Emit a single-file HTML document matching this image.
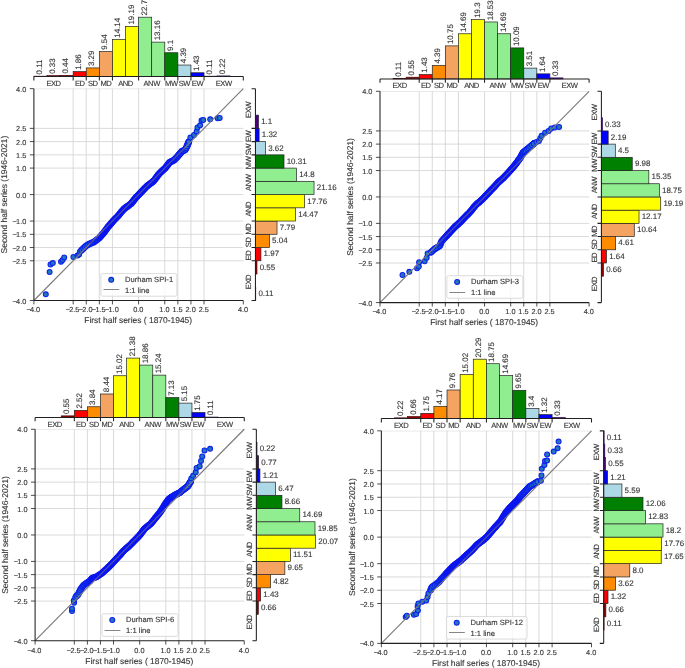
<!DOCTYPE html>
<html><head><meta charset="utf-8"><title>QQ plots</title>
<style>
html,body{margin:0;padding:0;background:#fff;}
body{width:685px;height:668px;overflow:hidden;font-family:"Liberation Sans",sans-serif;}
svg{display:block;will-change:transform;}
text{font-family:"Liberation Sans",sans-serif;fill:#383838;text-rendering:geometricPrecision;stroke:#383838;stroke-width:0.13px;}
.t{font-size:7.35px;}
.a{font-size:8.45px;}
.l{font-size:7.6px;}
.v{font-size:7.95px;}
.c{font-size:7.6px;letter-spacing:-0.45px;}
</style></head><body>
<svg width="685" height="668" viewBox="0 0 685 668">
<rect width="685" height="668" fill="#fff"/>
<path d="M33.9 88.85H243.3" stroke="#d3d3d3" stroke-width="0.5" fill="none"/>
<path d="M73.16 88.65V300.5M33.9 260.78H243.3M86.25 88.65V300.5M33.9 247.54H243.3M99.34 88.65V300.5M33.9 234.3H243.3M112.43 88.65V300.5M33.9 221.06H243.3M138.6 88.65V300.5M33.9 194.57H243.3M164.78 88.65V300.5M33.9 168.09H243.3M177.86 88.65V300.5M33.9 154.85H243.3M190.95 88.65V300.5M33.9 141.61H243.3M204.04 88.65V300.5M33.9 128.37H243.3" stroke="#d3d3d3" stroke-width="0.85" fill="none"/>
<path d="M81.5 250.2L86 245.9L89.6 243.8L94 242L99.2 238L103.6 233L108 227L113 221.2L115.14 218.98L117.28 216.75L119.33 214.43L121.25 212L123.29 209.67L125.65 207.66L128.24 205.87L130.68 203.93L132.76 201.65L134.64 199.17L136.63 196.8L138.8 194.6L140.95 192.37L143.09 190.14L145.22 187.89L147.46 185.76L149.92 183.85L152.42 181.97L154.62 179.8L156.49 177.28L158.3 174.73L160.38 172.43L162.7 170.37L165 168.3L169.4 162.6L173.8 160.3L177.3 156.8L181.7 151.6L185.2 149.8L187 146.3L188.7 142" stroke="#0a14f0" stroke-width="6.8" stroke-linecap="round" stroke-linejoin="round" fill="none"/>
<g fill="#2277bb" stroke="#0d20ee" stroke-width="1.1"><circle cx="45.8" cy="294.3" r="2.45"/><circle cx="49.6" cy="272" r="2.45"/><circle cx="50.5" cy="264.5" r="2.45"/><circle cx="52.8" cy="263.1" r="2.45"/><circle cx="61" cy="261.7" r="2.45"/><circle cx="62.6" cy="259.9" r="2.45"/><circle cx="64.2" cy="257.5" r="2.45"/><circle cx="73.4" cy="256.9" r="2.45"/><circle cx="77.5" cy="255.6" r="2.45"/><circle cx="79.1" cy="254.4" r="2.45"/><circle cx="79.9" cy="251.7" r="2.45"/><circle cx="81.5" cy="250.2" r="2.45"/><circle cx="83.24" cy="248.54" r="2.45"/><circle cx="84.85" cy="247" r="2.45"/><circle cx="86.42" cy="245.66" r="2.45"/><circle cx="88.09" cy="244.68" r="2.45"/><circle cx="89.64" cy="243.78" r="2.45"/><circle cx="91.18" cy="243.15" r="2.45"/><circle cx="92.62" cy="242.56" r="2.45"/><circle cx="93.96" cy="242.02" r="2.45"/><circle cx="95.03" cy="241.21" r="2.45"/><circle cx="96.02" cy="240.45" r="2.45"/><circle cx="96.94" cy="239.74" r="2.45"/><circle cx="97.8" cy="239.08" r="2.45"/><circle cx="98.59" cy="238.47" r="2.45"/><circle cx="99.31" cy="237.88" r="2.45"/><circle cx="99.88" cy="237.22" r="2.45"/></g>
<path d="M100.42 236.62L103.6 233L108 227L113 221.2L115.14 218.98L117.28 216.75L119.33 214.43L121.25 212L123.29 209.67L125.65 207.66L128.24 205.87L130.68 203.93L132.76 201.65L134.64 199.17L136.63 196.8L138.8 194.6L140.95 192.37L143.09 190.14L145.22 187.89L147.46 185.76L149.92 183.85L152.42 181.97L154.62 179.8L156.49 177.28L158.3 174.73L160.38 172.43L162.7 170.37L165 168.3L169.4 162.6L173.8 160.3L177.3 156.8L181.7 151.6L185.2 149.8L187 146.3L188.7 142" stroke="#0a14f0" stroke-width="6.8" stroke-linecap="round" stroke-linejoin="round" fill="none"/>
<g fill="#2277bb" stroke="#0d20ee" stroke-width="1.1"><circle cx="174.87" cy="159.23" r="2.45"/><circle cx="175.49" cy="158.61" r="2.45"/><circle cx="176.15" cy="157.95" r="2.45"/><circle cx="176.86" cy="157.24" r="2.45"/><circle cx="177.59" cy="156.45" r="2.45"/><circle cx="178.34" cy="155.57" r="2.45"/><circle cx="179.15" cy="154.61" r="2.45"/><circle cx="180.02" cy="153.59" r="2.45"/><circle cx="180.95" cy="152.49" r="2.45"/><circle cx="182.05" cy="151.42" r="2.45"/><circle cx="183.53" cy="150.66" r="2.45"/><circle cx="185.13" cy="149.84" r="2.45"/><circle cx="186.05" cy="148.15" r="2.45"/><circle cx="187" cy="146.31" r="2.45"/><circle cx="187.82" cy="144.23" r="2.45"/><circle cx="188.7" cy="142" r="2.45"/><circle cx="190.4" cy="137.6" r="2.45"/><circle cx="194" cy="135" r="2.45"/><circle cx="196.6" cy="131.4" r="2.45"/><circle cx="197.5" cy="127.6" r="2.45"/><circle cx="200.1" cy="125.3" r="2.45"/><circle cx="201.5" cy="120.6" r="2.45"/><circle cx="203.2" cy="120" r="2.45"/><circle cx="210.2" cy="119.3" r="2.45"/><circle cx="217.6" cy="118.3" r="2.45"/><circle cx="219.7" cy="117.9" r="2.45"/></g>
<path d="M33.9 300.5L243.3 88.65" stroke="#7a7a7a" stroke-width="1.15" fill="none"/>
<path d="M89.6 243.8L94 242L99.2 238L103.6 233L108 227L113 221.2L115.14 218.98L117.28 216.75L119.33 214.43L121.25 212L123.29 209.67L125.65 207.66L128.24 205.87L130.68 203.93L132.76 201.65L134.64 199.17L136.63 196.8L138.8 194.6L140.95 192.37L143.09 190.14L145.22 187.89L147.46 185.76L149.92 183.85L152.42 181.97L154.62 179.8L156.49 177.28L158.3 174.73L160.38 172.43L162.7 170.37L165 168.3L169.4 162.6L173.8 160.3L177.3 156.8L181.7 151.6L185.2 149.8" stroke="#0a14f0" stroke-opacity="0.38" stroke-width="4" stroke-linecap="butt" stroke-linejoin="round" fill="none"/>
<path d="M33.9 300.5v3.9M33.9 300.5h-4.1M73.16 300.5v3.9M33.9 260.78h-4.1M86.25 300.5v3.9M33.9 247.54h-4.1M99.34 300.5v3.9M33.9 234.3h-4.1M112.43 300.5v3.9M33.9 221.06h-4.1M138.6 300.5v3.9M33.9 194.57h-4.1M164.78 300.5v3.9M33.9 168.09h-4.1M177.86 300.5v3.9M33.9 154.85h-4.1M190.95 300.5v3.9M33.9 141.61h-4.1M204.04 300.5v3.9M33.9 128.37h-4.1M243.3 300.5v3.9M33.9 88.65h-4.1" stroke="#202020" stroke-width="0.8" fill="none"/>
<path d="M33.9 88.65V300.5H243.3" stroke="#202020" stroke-width="1.05" fill="none"/>
<text x="33.3" y="312.35" text-anchor="middle" class="t"><tspan letter-spacing="-0.7">−</tspan>4.0</text>
<text x="26.3" y="303.5" text-anchor="end" class="t"><tspan letter-spacing="-0.7">−</tspan>4.0</text>
<text x="72.56" y="312.35" text-anchor="middle" class="t"><tspan letter-spacing="-0.7">−</tspan>2.5</text>
<text x="26.3" y="263.78" text-anchor="end" class="t"><tspan letter-spacing="-0.7">−</tspan>2.5</text>
<text x="85.65" y="312.35" text-anchor="middle" class="t"><tspan letter-spacing="-0.7">−</tspan>2.0</text>
<text x="26.3" y="250.54" text-anchor="end" class="t"><tspan letter-spacing="-0.7">−</tspan>2.0</text>
<text x="98.74" y="312.35" text-anchor="middle" class="t"><tspan letter-spacing="-0.7">−</tspan>1.5</text>
<text x="26.3" y="237.3" text-anchor="end" class="t"><tspan letter-spacing="-0.7">−</tspan>1.5</text>
<text x="111.83" y="312.35" text-anchor="middle" class="t"><tspan letter-spacing="-0.7">−</tspan>1.0</text>
<text x="26.3" y="224.06" text-anchor="end" class="t"><tspan letter-spacing="-0.7">−</tspan>1.0</text>
<text x="138.3" y="312.35" text-anchor="middle" class="t">0.0</text>
<text x="26.3" y="197.57" text-anchor="end" class="t">0.0</text>
<text x="164.47" y="312.35" text-anchor="middle" class="t">1.0</text>
<text x="26.3" y="171.09" text-anchor="end" class="t">1.0</text>
<text x="177.56" y="312.35" text-anchor="middle" class="t">1.5</text>
<text x="26.3" y="157.85" text-anchor="end" class="t">1.5</text>
<text x="190.65" y="312.35" text-anchor="middle" class="t">2.0</text>
<text x="26.3" y="144.61" text-anchor="end" class="t">2.0</text>
<text x="203.74" y="312.35" text-anchor="middle" class="t">2.5</text>
<text x="26.3" y="131.37" text-anchor="end" class="t">2.5</text>
<text x="243" y="312.35" text-anchor="middle" class="t">4.0</text>
<text x="26.3" y="91.65" text-anchor="end" class="t">4.0</text>
<text x="138.2" y="323.3" text-anchor="middle" class="a">First half series ( 1870-1945)</text>
<text transform="translate(7.2 194.57) rotate(-90)" text-anchor="middle" class="a">Second half series (1946-2021)</text>
<rect x="100.9" y="273.6" width="76" height="22.6" rx="1.8" fill="#fff" fill-opacity="0.8" stroke="#d2d2d2" stroke-width="0.8"/>
<circle cx="111.2" cy="279.8" r="2.45" fill="#2277bb" stroke="#0d20ee" stroke-width="1.1"/>
<text x="125" y="281.75" class="l">Durham SPI-1</text>
<path d="M103.5 289.5h15.8" stroke="#787878" stroke-width="0.9"/>
<text x="125" y="292.65" class="l">1:1 line</text>
<rect x="33.9" y="76.21" width="13.09" height="0.29" fill="#8b0000" stroke="#4a0808" stroke-width="0.7"/>
<text transform="translate(41.94 74.41) rotate(-90)" class="v">0.11</text>
<rect x="46.99" y="75.64" width="13.09" height="0.86" fill="#8b0000" stroke="#4a0808" stroke-width="0.7"/>
<text transform="translate(55.03 73.84) rotate(-90)" class="v">0.33</text>
<rect x="60.08" y="75.35" width="13.09" height="1.15" fill="#8b0000" stroke="#4a0808" stroke-width="0.7"/>
<text transform="translate(68.12 73.55) rotate(-90)" class="v">0.44</text>
<rect x="73.16" y="71.64" width="13.09" height="4.86" fill="#ff0000" stroke="#222" stroke-width="0.7"/>
<text transform="translate(81.21 69.84) rotate(-90)" class="v">1.86</text>
<rect x="86.25" y="67.91" width="13.09" height="8.59" fill="#ff8c00" stroke="#222" stroke-width="0.7"/>
<text transform="translate(94.29 66.11) rotate(-90)" class="v">3.29</text>
<rect x="99.34" y="51.58" width="13.09" height="24.92" fill="#f4a460" stroke="#222" stroke-width="0.7"/>
<text transform="translate(107.38 49.78) rotate(-90)" class="v">9.54</text>
<rect x="112.43" y="39.56" width="13.09" height="36.94" fill="#ffff00" stroke="#222" stroke-width="0.7"/>
<text transform="translate(120.47 37.76) rotate(-90)" class="v">14.14</text>
<rect x="125.51" y="26.37" width="13.09" height="50.13" fill="#ffff00" stroke="#222" stroke-width="0.7"/>
<text transform="translate(133.56 24.57) rotate(-90)" class="v">19.19</text>
<rect x="138.6" y="17.2" width="13.09" height="59.3" fill="#90ee90" stroke="#222" stroke-width="0.7"/>
<text transform="translate(146.64 15.4) rotate(-90)" class="v">22.7</text>
<rect x="151.69" y="42.12" width="13.09" height="34.38" fill="#90ee90" stroke="#222" stroke-width="0.7"/>
<text transform="translate(159.73 40.32) rotate(-90)" class="v">13.16</text>
<rect x="164.78" y="52.73" width="13.09" height="23.77" fill="#008000" stroke="#222" stroke-width="0.7"/>
<text transform="translate(172.82 50.93) rotate(-90)" class="v">9.1</text>
<rect x="177.86" y="65.03" width="13.09" height="11.47" fill="#add8e6" stroke="#222" stroke-width="0.7"/>
<text transform="translate(185.91 63.23) rotate(-90)" class="v">4.39</text>
<rect x="190.95" y="72.76" width="13.09" height="3.74" fill="#0000ff" stroke="#222" stroke-width="0.7"/>
<text transform="translate(198.99 70.96) rotate(-90)" class="v">1.43</text>
<rect x="204.04" y="76.21" width="13.09" height="0.29" fill="#4b0082" stroke="#300a58" stroke-width="0.7"/>
<text transform="translate(212.08 74.41) rotate(-90)" class="v">0.11</text>
<rect x="217.12" y="75.93" width="13.09" height="0.57" fill="#4b0082" stroke="#300a58" stroke-width="0.7"/>
<text transform="translate(225.17 74.13) rotate(-90)" class="v">0.22</text>
<path d="M33.9 76.5H243.3M33.9 76.5v3.9M73.16 76.5v3.9M86.25 76.5v3.9M99.34 76.5v3.9M112.43 76.5v3.9M138.6 76.5v3.9M164.78 76.5v3.9M177.86 76.5v3.9M190.95 76.5v3.9M204.04 76.5v3.9M243.3 76.5v3.9" stroke="#202020" stroke-width="1.05" fill="none"/>
<text x="53.53" y="85.9" text-anchor="middle" class="c">EXD</text>
<text x="79.71" y="85.9" text-anchor="middle" class="c">ED</text>
<text x="92.79" y="85.9" text-anchor="middle" class="c">SD</text>
<text x="105.88" y="85.9" text-anchor="middle" class="c">MD</text>
<text x="125.51" y="85.9" text-anchor="middle" class="c">AND</text>
<text x="151.69" y="85.9" text-anchor="middle" class="c">ANW</text>
<text x="171.32" y="85.9" text-anchor="middle" class="c">MW</text>
<text x="184.41" y="85.9" text-anchor="middle" class="c">SW</text>
<text x="197.49" y="85.9" text-anchor="middle" class="c">EW</text>
<text x="223.67" y="85.9" text-anchor="middle" class="c">EXW</text>
<rect x="255.45" y="287.26" width="0.3" height="13.24" fill="#8b0000" stroke="#4a0808" stroke-width="0.7"/>
<text x="258.45" y="296.18" class="v">0.11</text>
<rect x="255.45" y="260.78" width="1.52" height="13.24" fill="#8b0000" stroke="#4a0808" stroke-width="0.7"/>
<text x="259.67" y="269.7" class="v">0.55</text>
<rect x="255.45" y="247.54" width="5.46" height="13.24" fill="#ff0000" stroke="#222" stroke-width="0.7"/>
<text x="263.61" y="256.46" class="v">1.97</text>
<rect x="255.45" y="234.3" width="13.96" height="13.24" fill="#ff8c00" stroke="#222" stroke-width="0.7"/>
<text x="272.11" y="243.22" class="v">5.04</text>
<rect x="255.45" y="221.06" width="21.57" height="13.24" fill="#f4a460" stroke="#222" stroke-width="0.7"/>
<text x="279.72" y="229.98" class="v">7.79</text>
<rect x="255.45" y="207.82" width="40.07" height="13.24" fill="#ffff00" stroke="#222" stroke-width="0.7"/>
<text x="298.22" y="216.74" class="v">14.47</text>
<rect x="255.45" y="194.57" width="49.18" height="13.24" fill="#ffff00" stroke="#222" stroke-width="0.7"/>
<text x="307.33" y="203.5" class="v">17.76</text>
<rect x="255.45" y="181.33" width="58.6" height="13.24" fill="#90ee90" stroke="#222" stroke-width="0.7"/>
<text x="316.75" y="190.25" class="v">21.16</text>
<rect x="255.45" y="168.09" width="40.99" height="13.24" fill="#90ee90" stroke="#222" stroke-width="0.7"/>
<text x="299.14" y="177.01" class="v">14.8</text>
<rect x="255.45" y="154.85" width="28.55" height="13.24" fill="#008000" stroke="#222" stroke-width="0.7"/>
<text x="286.7" y="163.77" class="v">10.31</text>
<rect x="255.45" y="141.61" width="10.03" height="13.24" fill="#add8e6" stroke="#222" stroke-width="0.7"/>
<text x="268.18" y="150.53" class="v">3.62</text>
<rect x="255.45" y="128.37" width="3.66" height="13.24" fill="#0000ff" stroke="#222" stroke-width="0.7"/>
<text x="261.81" y="137.29" class="v">1.32</text>
<rect x="255.45" y="115.13" width="3.05" height="13.24" fill="#4b0082" stroke="#222" stroke-width="0.7"/>
<text x="261.2" y="124.05" class="v">1.1</text>
<path d="M255.45 88.65V300.5M255.45 300.5h-3.9M255.45 260.78h-3.9M255.45 247.54h-3.9M255.45 234.3h-3.9M255.45 221.06h-3.9M255.45 194.57h-3.9M255.45 168.09h-3.9M255.45 154.85h-3.9M255.45 141.61h-3.9M255.45 128.37h-3.9M255.45 88.65h-3.9" stroke="#202020" stroke-width="1.05" fill="none"/>
<text transform="translate(250.85 282.04) rotate(-90)" text-anchor="middle" class="c">EXD</text>
<text transform="translate(250.85 255.56) rotate(-90)" text-anchor="middle" class="c">ED</text>
<text transform="translate(250.85 242.32) rotate(-90)" text-anchor="middle" class="c">SD</text>
<text transform="translate(250.85 229.08) rotate(-90)" text-anchor="middle" class="c">MD</text>
<text transform="translate(250.85 209.22) rotate(-90)" text-anchor="middle" class="c">AND</text>
<text transform="translate(250.85 182.73) rotate(-90)" text-anchor="middle" class="c">ANW</text>
<text transform="translate(250.85 162.87) rotate(-90)" text-anchor="middle" class="c">MW</text>
<text transform="translate(250.85 149.63) rotate(-90)" text-anchor="middle" class="c">SW</text>
<text transform="translate(250.85 136.39) rotate(-90)" text-anchor="middle" class="c">EW</text>
<text transform="translate(250.85 109.91) rotate(-90)" text-anchor="middle" class="c">EXW</text>
<path d="M380 91.5H589.1" stroke="#d3d3d3" stroke-width="0.5" fill="none"/>
<path d="M419.21 91.3V302.6M380 262.98H589.1M432.27 91.3V302.6M380 249.78H589.1M445.34 91.3V302.6M380 236.57H589.1M458.41 91.3V302.6M380 223.36H589.1M484.55 91.3V302.6M380 196.95H589.1M510.69 91.3V302.6M380 170.54H589.1M523.76 91.3V302.6M380 157.33H589.1M536.83 91.3V302.6M380 144.12H589.1M549.89 91.3V302.6M380 130.92H589.1" stroke="#d3d3d3" stroke-width="0.85" fill="none"/>
<path d="M431 252.2L434.6 249L439.8 245.9L441.6 241.2L446 236.5L452 230L454.07 227.7L456.3 225.57L458.65 223.55L460.92 221.45L463.04 219.2L465.14 216.94L467.33 214.77L469.54 212.6L471.57 210.27L473.45 207.79L475.43 205.4L477.67 203.28L480.08 201.31L482.38 199.25L484.5 197L486.8 194.71L488.97 192.29L491.22 189.95L493.49 187.64L495.66 185.22L497.84 182.81L500.24 180.62L502.73 178.52L505 176.2L510 170.8L514 166.2L517 162.4L520.6 157.2L523.2 152.5L527.6 149L533.7 143.7" stroke="#0a14f0" stroke-width="6.8" stroke-linecap="round" stroke-linejoin="round" fill="none"/>
<g fill="#2277bb" stroke="#0d20ee" stroke-width="1.1"><circle cx="402.5" cy="275" r="2.45"/><circle cx="409.3" cy="271.8" r="2.45"/><circle cx="417" cy="268.3" r="2.45"/><circle cx="418.8" cy="266.6" r="2.45"/><circle cx="419.1" cy="262.2" r="2.45"/><circle cx="424.6" cy="261.3" r="2.45"/><circle cx="426.7" cy="257.8" r="2.45"/><circle cx="427.6" cy="253.4" r="2.45"/><circle cx="431" cy="252.2" r="2.45"/><circle cx="432.79" cy="250.61" r="2.45"/><circle cx="434.46" cy="249.12" r="2.45"/><circle cx="436.22" cy="248.03" r="2.45"/><circle cx="437.88" cy="247.04" r="2.45"/><circle cx="439.42" cy="246.12" r="2.45"/><circle cx="440.24" cy="244.75" r="2.45"/><circle cx="440.8" cy="243.3" r="2.45"/><circle cx="441.31" cy="241.95" r="2.45"/><circle cx="441.97" cy="240.81" r="2.45"/><circle cx="442.82" cy="239.89" r="2.45"/><circle cx="443.62" cy="239.05" r="2.45"/><circle cx="444.35" cy="238.26" r="2.45"/><circle cx="445.04" cy="237.52" r="2.45"/><circle cx="445.68" cy="236.84" r="2.45"/><circle cx="446.27" cy="236.21" r="2.45"/></g>
<path d="M446.82 235.61L452 230L454.07 227.7L456.3 225.57L458.65 223.55L460.92 221.45L463.04 219.2L465.14 216.94L467.33 214.77L469.54 212.6L471.57 210.27L473.45 207.79L475.43 205.4L477.67 203.28L480.08 201.31L482.38 199.25L484.5 197L486.8 194.71L488.97 192.29L491.22 189.95L493.49 187.64L495.66 185.22L497.84 182.81L500.24 180.62L502.73 178.52L505 176.2L510 170.8L514 166.2L517 162.4L520.6 157.2L523.2 152.5L527.6 149L533.7 143.7" stroke="#0a14f0" stroke-width="6.8" stroke-linecap="round" stroke-linejoin="round" fill="none"/>
<g fill="#2277bb" stroke="#0d20ee" stroke-width="1.1"><circle cx="518.51" cy="160.22" r="2.45"/><circle cx="519.01" cy="159.5" r="2.45"/><circle cx="519.54" cy="158.73" r="2.45"/><circle cx="520.11" cy="157.91" r="2.45"/><circle cx="520.71" cy="157.01" r="2.45"/><circle cx="521.27" cy="155.99" r="2.45"/><circle cx="521.87" cy="154.9" r="2.45"/><circle cx="522.52" cy="153.72" r="2.45"/><circle cx="523.24" cy="152.47" r="2.45"/><circle cx="524.45" cy="151.5" r="2.45"/><circle cx="525.76" cy="150.46" r="2.45"/><circle cx="527.16" cy="149.35" r="2.45"/><circle cx="528.64" cy="148.1" r="2.45"/><circle cx="530.2" cy="146.74" r="2.45"/><circle cx="531.89" cy="145.27" r="2.45"/><circle cx="533.7" cy="143.7" r="2.45"/><circle cx="536.5" cy="142" r="2.45"/><circle cx="538.9" cy="141" r="2.45"/><circle cx="540.3" cy="138.2" r="2.45"/><circle cx="541.6" cy="135.8" r="2.45"/><circle cx="545.1" cy="132.7" r="2.45"/><circle cx="548.6" cy="130.9" r="2.45"/><circle cx="551.2" cy="128.4" r="2.45"/><circle cx="554.7" cy="127.6" r="2.45"/><circle cx="559.1" cy="127" r="2.45"/></g>
<path d="M380 302.6L589.1 91.3" stroke="#7a7a7a" stroke-width="1.15" fill="none"/>
<path d="M439.8 245.9L441.6 241.2L446 236.5L452 230L454.07 227.7L456.3 225.57L458.65 223.55L460.92 221.45L463.04 219.2L465.14 216.94L467.33 214.77L469.54 212.6L471.57 210.27L473.45 207.79L475.43 205.4L477.67 203.28L480.08 201.31L482.38 199.25L484.5 197L486.8 194.71L488.97 192.29L491.22 189.95L493.49 187.64L495.66 185.22L497.84 182.81L500.24 180.62L502.73 178.52L505 176.2L510 170.8L514 166.2L517 162.4L520.6 157.2L523.2 152.5" stroke="#0a14f0" stroke-opacity="0.38" stroke-width="4" stroke-linecap="butt" stroke-linejoin="round" fill="none"/>
<path d="M380 302.6v3.9M380 302.6h-4.1M419.21 302.6v3.9M380 262.98h-4.1M432.27 302.6v3.9M380 249.78h-4.1M445.34 302.6v3.9M380 236.57h-4.1M458.41 302.6v3.9M380 223.36h-4.1M484.55 302.6v3.9M380 196.95h-4.1M510.69 302.6v3.9M380 170.54h-4.1M523.76 302.6v3.9M380 157.33h-4.1M536.83 302.6v3.9M380 144.12h-4.1M549.89 302.6v3.9M380 130.92h-4.1M589.1 302.6v3.9M380 91.3h-4.1" stroke="#202020" stroke-width="0.8" fill="none"/>
<path d="M380 91.3V302.6H589.1" stroke="#202020" stroke-width="1.05" fill="none"/>
<text x="379.4" y="314.45" text-anchor="middle" class="t"><tspan letter-spacing="-0.7">−</tspan>4.0</text>
<text x="372.4" y="305.6" text-anchor="end" class="t"><tspan letter-spacing="-0.7">−</tspan>4.0</text>
<text x="418.61" y="314.45" text-anchor="middle" class="t"><tspan letter-spacing="-0.7">−</tspan>2.5</text>
<text x="372.4" y="265.98" text-anchor="end" class="t"><tspan letter-spacing="-0.7">−</tspan>2.5</text>
<text x="431.67" y="314.45" text-anchor="middle" class="t"><tspan letter-spacing="-0.7">−</tspan>2.0</text>
<text x="372.4" y="252.78" text-anchor="end" class="t"><tspan letter-spacing="-0.7">−</tspan>2.0</text>
<text x="444.74" y="314.45" text-anchor="middle" class="t"><tspan letter-spacing="-0.7">−</tspan>1.5</text>
<text x="372.4" y="239.57" text-anchor="end" class="t"><tspan letter-spacing="-0.7">−</tspan>1.5</text>
<text x="457.81" y="314.45" text-anchor="middle" class="t"><tspan letter-spacing="-0.7">−</tspan>1.0</text>
<text x="372.4" y="226.36" text-anchor="end" class="t"><tspan letter-spacing="-0.7">−</tspan>1.0</text>
<text x="484.25" y="314.45" text-anchor="middle" class="t">0.0</text>
<text x="372.4" y="199.95" text-anchor="end" class="t">0.0</text>
<text x="510.39" y="314.45" text-anchor="middle" class="t">1.0</text>
<text x="372.4" y="173.54" text-anchor="end" class="t">1.0</text>
<text x="523.46" y="314.45" text-anchor="middle" class="t">1.5</text>
<text x="372.4" y="160.33" text-anchor="end" class="t">1.5</text>
<text x="536.53" y="314.45" text-anchor="middle" class="t">2.0</text>
<text x="372.4" y="147.12" text-anchor="end" class="t">2.0</text>
<text x="549.59" y="314.45" text-anchor="middle" class="t">2.5</text>
<text x="372.4" y="133.92" text-anchor="end" class="t">2.5</text>
<text x="588.8" y="314.45" text-anchor="middle" class="t">4.0</text>
<text x="372.4" y="94.3" text-anchor="end" class="t">4.0</text>
<text x="484.15" y="325.4" text-anchor="middle" class="a">First half series ( 1870-1945)</text>
<text transform="translate(353.3 196.95) rotate(-90)" text-anchor="middle" class="a">Second half series (1946-2021)</text>
<rect x="446.85" y="275.7" width="76" height="22.6" rx="1.8" fill="#fff" fill-opacity="0.8" stroke="#d2d2d2" stroke-width="0.8"/>
<circle cx="457.15" cy="281.9" r="2.45" fill="#2277bb" stroke="#0d20ee" stroke-width="1.1"/>
<text x="470.95" y="283.85" class="l">Durham SPI-3</text>
<path d="M449.45 292.5h15.8" stroke="#787878" stroke-width="0.9"/>
<text x="470.95" y="294.75" class="l">1:1 line</text>
<rect x="393.07" y="78.56" width="13.07" height="0.34" fill="#8b0000" stroke="#4a0808" stroke-width="0.7"/>
<text transform="translate(401.1 76.76) rotate(-90)" class="v">0.11</text>
<rect x="406.14" y="77.21" width="13.07" height="1.69" fill="#8b0000" stroke="#4a0808" stroke-width="0.7"/>
<text transform="translate(414.17 75.41) rotate(-90)" class="v">0.55</text>
<rect x="419.21" y="74.51" width="13.07" height="4.39" fill="#ff0000" stroke="#222" stroke-width="0.7"/>
<text transform="translate(427.24 72.71) rotate(-90)" class="v">1.43</text>
<rect x="432.27" y="65.41" width="13.07" height="13.49" fill="#ff8c00" stroke="#222" stroke-width="0.7"/>
<text transform="translate(440.31 63.61) rotate(-90)" class="v">4.39</text>
<rect x="445.34" y="45.87" width="13.07" height="33.03" fill="#f4a460" stroke="#222" stroke-width="0.7"/>
<text transform="translate(453.38 44.07) rotate(-90)" class="v">10.75</text>
<rect x="458.41" y="33.76" width="13.07" height="45.14" fill="#ffff00" stroke="#222" stroke-width="0.7"/>
<text transform="translate(466.45 31.96) rotate(-90)" class="v">14.69</text>
<rect x="471.48" y="19.6" width="13.07" height="59.3" fill="#ffff00" stroke="#222" stroke-width="0.7"/>
<text transform="translate(479.52 17.8) rotate(-90)" class="v">19.3</text>
<rect x="484.55" y="21.97" width="13.07" height="56.93" fill="#90ee90" stroke="#222" stroke-width="0.7"/>
<text transform="translate(492.58 20.17) rotate(-90)" class="v">18.53</text>
<rect x="497.62" y="33.76" width="13.07" height="45.14" fill="#90ee90" stroke="#222" stroke-width="0.7"/>
<text transform="translate(505.65 31.96) rotate(-90)" class="v">14.69</text>
<rect x="510.69" y="47.9" width="13.07" height="31" fill="#008000" stroke="#222" stroke-width="0.7"/>
<text transform="translate(518.72 46.1) rotate(-90)" class="v">10.09</text>
<rect x="523.76" y="68.12" width="13.07" height="10.78" fill="#add8e6" stroke="#222" stroke-width="0.7"/>
<text transform="translate(531.79 66.32) rotate(-90)" class="v">3.51</text>
<rect x="536.83" y="73.86" width="13.07" height="5.04" fill="#0000ff" stroke="#222" stroke-width="0.7"/>
<text transform="translate(544.86 72.06) rotate(-90)" class="v">1.64</text>
<rect x="549.89" y="77.89" width="13.07" height="1.01" fill="#4b0082" stroke="#300a58" stroke-width="0.7"/>
<text transform="translate(557.93 76.09) rotate(-90)" class="v">0.33</text>
<path d="M380 78.9H589.1M380 78.9v3.9M419.21 78.9v3.9M432.27 78.9v3.9M445.34 78.9v3.9M458.41 78.9v3.9M484.55 78.9v3.9M510.69 78.9v3.9M523.76 78.9v3.9M536.83 78.9v3.9M549.89 78.9v3.9M589.1 78.9v3.9" stroke="#202020" stroke-width="1.05" fill="none"/>
<text x="399.6" y="88.3" text-anchor="middle" class="c">EXD</text>
<text x="425.74" y="88.3" text-anchor="middle" class="c">ED</text>
<text x="438.81" y="88.3" text-anchor="middle" class="c">SD</text>
<text x="451.88" y="88.3" text-anchor="middle" class="c">MD</text>
<text x="471.48" y="88.3" text-anchor="middle" class="c">AND</text>
<text x="497.62" y="88.3" text-anchor="middle" class="c">ANW</text>
<text x="517.22" y="88.3" text-anchor="middle" class="c">MW</text>
<text x="530.29" y="88.3" text-anchor="middle" class="c">SW</text>
<text x="543.36" y="88.3" text-anchor="middle" class="c">EW</text>
<text x="569.5" y="88.3" text-anchor="middle" class="c">EXW</text>
<rect x="601.4" y="262.98" width="2.04" height="13.21" fill="#8b0000" stroke="#4a0808" stroke-width="0.7"/>
<text x="606.14" y="271.88" class="v">0.66</text>
<rect x="601.4" y="249.78" width="5.07" height="13.21" fill="#ff0000" stroke="#222" stroke-width="0.7"/>
<text x="609.17" y="258.68" class="v">1.64</text>
<rect x="601.4" y="236.57" width="14.25" height="13.21" fill="#ff8c00" stroke="#222" stroke-width="0.7"/>
<text x="618.35" y="245.47" class="v">4.61</text>
<rect x="601.4" y="223.36" width="32.88" height="13.21" fill="#f4a460" stroke="#222" stroke-width="0.7"/>
<text x="636.98" y="232.27" class="v">10.64</text>
<rect x="601.4" y="210.16" width="37.61" height="13.21" fill="#ffff00" stroke="#222" stroke-width="0.7"/>
<text x="641.71" y="219.06" class="v">12.17</text>
<rect x="601.4" y="196.95" width="59.3" height="13.21" fill="#ffff00" stroke="#222" stroke-width="0.7"/>
<text x="663.4" y="205.85" class="v">19.19</text>
<rect x="601.4" y="183.74" width="57.94" height="13.21" fill="#90ee90" stroke="#222" stroke-width="0.7"/>
<text x="662.04" y="192.65" class="v">18.75</text>
<rect x="601.4" y="170.54" width="47.43" height="13.21" fill="#90ee90" stroke="#222" stroke-width="0.7"/>
<text x="651.53" y="179.44" class="v">15.35</text>
<rect x="601.4" y="157.33" width="30.84" height="13.21" fill="#008000" stroke="#222" stroke-width="0.7"/>
<text x="634.94" y="166.23" class="v">9.98</text>
<rect x="601.4" y="144.12" width="13.91" height="13.21" fill="#add8e6" stroke="#222" stroke-width="0.7"/>
<text x="618.01" y="153.03" class="v">4.5</text>
<rect x="601.4" y="130.92" width="6.77" height="13.21" fill="#0000ff" stroke="#222" stroke-width="0.7"/>
<text x="610.87" y="139.82" class="v">2.19</text>
<rect x="601.4" y="117.71" width="1.02" height="13.21" fill="#4b0082" stroke="#300a58" stroke-width="0.7"/>
<text x="605.12" y="126.62" class="v">0.33</text>
<path d="M601.4 91.3V302.6M601.4 302.6h-3.9M601.4 262.98h-3.9M601.4 249.78h-3.9M601.4 236.57h-3.9M601.4 223.36h-3.9M601.4 196.95h-3.9M601.4 170.54h-3.9M601.4 157.33h-3.9M601.4 144.12h-3.9M601.4 130.92h-3.9M601.4 91.3h-3.9" stroke="#202020" stroke-width="1.05" fill="none"/>
<text transform="translate(596.8 284.19) rotate(-90)" text-anchor="middle" class="c">EXD</text>
<text transform="translate(596.8 257.78) rotate(-90)" text-anchor="middle" class="c">ED</text>
<text transform="translate(596.8 244.57) rotate(-90)" text-anchor="middle" class="c">SD</text>
<text transform="translate(596.8 231.37) rotate(-90)" text-anchor="middle" class="c">MD</text>
<text transform="translate(596.8 211.56) rotate(-90)" text-anchor="middle" class="c">AND</text>
<text transform="translate(596.8 185.14) rotate(-90)" text-anchor="middle" class="c">ANW</text>
<text transform="translate(596.8 165.33) rotate(-90)" text-anchor="middle" class="c">MW</text>
<text transform="translate(596.8 152.13) rotate(-90)" text-anchor="middle" class="c">SW</text>
<text transform="translate(596.8 138.92) rotate(-90)" text-anchor="middle" class="c">EW</text>
<text transform="translate(596.8 112.51) rotate(-90)" text-anchor="middle" class="c">EXW</text>
<path d="M35.1 429.45H244.25" stroke="#d3d3d3" stroke-width="0.5" fill="none"/>
<path d="M74.32 429.25V640.7M35.1 601.05H244.25M87.39 429.25V640.7M35.1 587.84H244.25M100.46 429.25V640.7M35.1 574.62H244.25M113.53 429.25V640.7M35.1 561.41H244.25M139.68 429.25V640.7M35.1 534.98H244.25M165.82 429.25V640.7M35.1 508.54H244.25M178.89 429.25V640.7M35.1 495.33H244.25M191.96 429.25V640.7M35.1 482.11H244.25M205.03 429.25V640.7M35.1 468.9H244.25" stroke="#d3d3d3" stroke-width="0.85" fill="none"/>
<path d="M76.5 596L78.2 594.3L80.8 589L83.4 585.5L86.1 583.4L89.6 581.2L92.2 578.2L96.6 576.8L101.8 573.3L107.1 568.5L112.3 563.3L120 555L122.03 552.56L124.16 550.23L126.57 548.17L129 546.14L131.26 543.93L133.44 541.63L135.68 539.41L137.89 537.16L140 534.8L141.94 532.29L143.79 529.68L146.02 527.44L148.62 525.53L151.03 523.45L153.05 521.01L155 518.5L159.8 512.6L163.3 507.3L165.9 503L168.5 499.5L172 496.8L175.5 494.7L179.9 492.4L184.3 488.9L187.8 486.3L190.4 481.9" stroke="#0a14f0" stroke-width="6.8" stroke-linecap="round" stroke-linejoin="round" fill="none"/>
<g fill="#2277bb" stroke="#0d20ee" stroke-width="1.1"><circle cx="72" cy="611" r="2.45"/><circle cx="72" cy="608.7" r="2.45"/><circle cx="74.1" cy="602.7" r="2.45"/><circle cx="73.8" cy="600.4" r="2.45"/><circle cx="75.2" cy="597.5" r="2.45"/><circle cx="76.5" cy="596" r="2.45"/><circle cx="78.2" cy="594.3" r="2.45"/><circle cx="79.18" cy="592.3" r="2.45"/><circle cx="80.1" cy="590.44" r="2.45"/><circle cx="81" cy="588.73" r="2.45"/><circle cx="82.07" cy="587.29" r="2.45"/><circle cx="83.06" cy="585.95" r="2.45"/><circle cx="84.18" cy="584.89" r="2.45"/><circle cx="85.32" cy="584.01" r="2.45"/><circle cx="86.4" cy="583.21" r="2.45"/><circle cx="87.46" cy="582.55" r="2.45"/><circle cx="88.44" cy="581.93" r="2.45"/><circle cx="89.36" cy="581.35" r="2.45"/><circle cx="90.07" cy="580.66" r="2.45"/><circle cx="90.68" cy="579.95" r="2.45"/><circle cx="91.25" cy="579.3" r="2.45"/></g>
<path d="M91.78 578.69L92.2 578.2L96.6 576.8L101.8 573.3L107.1 568.5L112.3 563.3L120 555L122.03 552.56L124.16 550.23L126.57 548.17L129 546.14L131.26 543.93L133.44 541.63L135.68 539.41L137.89 537.16L140 534.8L141.94 532.29L143.79 529.68L146.02 527.44L148.62 525.53L151.03 523.45L153.05 521.01L155 518.5L159.8 512.6L163.3 507.3L165.9 503L168.5 499.5L172 496.8L175.5 494.7L179.9 492.4L184.3 488.9L187.8 486.3L190.4 481.9" stroke="#0a14f0" stroke-width="6.8" stroke-linecap="round" stroke-linejoin="round" fill="none"/>
<g fill="#2277bb" stroke="#0d20ee" stroke-width="1.1"><circle cx="173.2" cy="496.08" r="2.45"/><circle cx="173.94" cy="495.63" r="2.45"/><circle cx="174.74" cy="495.15" r="2.45"/><circle cx="175.61" cy="494.64" r="2.45"/><circle cx="176.57" cy="494.14" r="2.45"/><circle cx="177.6" cy="493.6" r="2.45"/><circle cx="178.7" cy="493.03" r="2.45"/><circle cx="179.89" cy="492.4" r="2.45"/><circle cx="181.02" cy="491.51" r="2.45"/><circle cx="182.24" cy="490.54" r="2.45"/><circle cx="183.55" cy="489.5" r="2.45"/><circle cx="184.97" cy="488.4" r="2.45"/><circle cx="186.52" cy="487.25" r="2.45"/><circle cx="188.04" cy="485.89" r="2.45"/><circle cx="189.18" cy="483.97" r="2.45"/><circle cx="190.4" cy="481.9" r="2.45"/><circle cx="191.3" cy="478.4" r="2.45"/><circle cx="193.1" cy="475.8" r="2.45"/><circle cx="195.7" cy="472.3" r="2.45"/><circle cx="196.6" cy="467.9" r="2.45"/><circle cx="199.7" cy="466.2" r="2.45"/><circle cx="201" cy="460.9" r="2.45"/><circle cx="202.2" cy="456.5" r="2.45"/><circle cx="204.5" cy="450.4" r="2.45"/><circle cx="210.1" cy="448.8" r="2.45"/></g>
<path d="M35.1 640.7L244.25 429.25" stroke="#7a7a7a" stroke-width="1.15" fill="none"/>
<path d="M80.8 589L83.4 585.5L86.1 583.4L89.6 581.2L92.2 578.2L96.6 576.8L101.8 573.3L107.1 568.5L112.3 563.3L120 555L122.03 552.56L124.16 550.23L126.57 548.17L129 546.14L131.26 543.93L133.44 541.63L135.68 539.41L137.89 537.16L140 534.8L141.94 532.29L143.79 529.68L146.02 527.44L148.62 525.53L151.03 523.45L153.05 521.01L155 518.5L159.8 512.6L163.3 507.3L165.9 503L168.5 499.5L172 496.8L175.5 494.7L179.9 492.4L184.3 488.9" stroke="#0a14f0" stroke-opacity="0.38" stroke-width="4" stroke-linecap="butt" stroke-linejoin="round" fill="none"/>
<path d="M35.1 640.7v3.9M35.1 640.7h-4.1M74.32 640.7v3.9M35.1 601.05h-4.1M87.39 640.7v3.9M35.1 587.84h-4.1M100.46 640.7v3.9M35.1 574.62h-4.1M113.53 640.7v3.9M35.1 561.41h-4.1M139.68 640.7v3.9M35.1 534.98h-4.1M165.82 640.7v3.9M35.1 508.54h-4.1M178.89 640.7v3.9M35.1 495.33h-4.1M191.96 640.7v3.9M35.1 482.11h-4.1M205.03 640.7v3.9M35.1 468.9h-4.1M244.25 640.7v3.9M35.1 429.25h-4.1" stroke="#202020" stroke-width="0.8" fill="none"/>
<path d="M35.1 429.25V640.7H244.25" stroke="#202020" stroke-width="1.05" fill="none"/>
<text x="34.5" y="652.55" text-anchor="middle" class="t"><tspan letter-spacing="-0.7">−</tspan>4.0</text>
<text x="27.5" y="643.7" text-anchor="end" class="t"><tspan letter-spacing="-0.7">−</tspan>4.0</text>
<text x="73.72" y="652.55" text-anchor="middle" class="t"><tspan letter-spacing="-0.7">−</tspan>2.5</text>
<text x="27.5" y="604.05" text-anchor="end" class="t"><tspan letter-spacing="-0.7">−</tspan>2.5</text>
<text x="86.79" y="652.55" text-anchor="middle" class="t"><tspan letter-spacing="-0.7">−</tspan>2.0</text>
<text x="27.5" y="590.84" text-anchor="end" class="t"><tspan letter-spacing="-0.7">−</tspan>2.0</text>
<text x="99.86" y="652.55" text-anchor="middle" class="t"><tspan letter-spacing="-0.7">−</tspan>1.5</text>
<text x="27.5" y="577.62" text-anchor="end" class="t"><tspan letter-spacing="-0.7">−</tspan>1.5</text>
<text x="112.93" y="652.55" text-anchor="middle" class="t"><tspan letter-spacing="-0.7">−</tspan>1.0</text>
<text x="27.5" y="564.41" text-anchor="end" class="t"><tspan letter-spacing="-0.7">−</tspan>1.0</text>
<text x="139.38" y="652.55" text-anchor="middle" class="t">0.0</text>
<text x="27.5" y="537.98" text-anchor="end" class="t">0.0</text>
<text x="165.52" y="652.55" text-anchor="middle" class="t">1.0</text>
<text x="27.5" y="511.54" text-anchor="end" class="t">1.0</text>
<text x="178.59" y="652.55" text-anchor="middle" class="t">1.5</text>
<text x="27.5" y="498.33" text-anchor="end" class="t">1.5</text>
<text x="191.66" y="652.55" text-anchor="middle" class="t">2.0</text>
<text x="27.5" y="485.11" text-anchor="end" class="t">2.0</text>
<text x="204.73" y="652.55" text-anchor="middle" class="t">2.5</text>
<text x="27.5" y="471.9" text-anchor="end" class="t">2.5</text>
<text x="243.95" y="652.55" text-anchor="middle" class="t">4.0</text>
<text x="27.5" y="432.25" text-anchor="end" class="t">4.0</text>
<text x="139.28" y="663.5" text-anchor="middle" class="a">First half series ( 1870-1945)</text>
<text transform="translate(8.4 534.98) rotate(-90)" text-anchor="middle" class="a">Second half series (1946-2021)</text>
<rect x="101.98" y="613.8" width="76" height="22.6" rx="1.8" fill="#fff" fill-opacity="0.8" stroke="#d2d2d2" stroke-width="0.8"/>
<circle cx="112.28" cy="620" r="2.45" fill="#2277bb" stroke="#0d20ee" stroke-width="1.1"/>
<text x="126.08" y="621.95" class="l">Durham SPI-6</text>
<path d="M104.58 630.5h15.8" stroke="#787878" stroke-width="0.9"/>
<text x="126.08" y="632.85" class="l">1:1 line</text>
<rect x="61.24" y="415.87" width="13.07" height="1.53" fill="#8b0000" stroke="#4a0808" stroke-width="0.7"/>
<text transform="translate(69.28 414.07) rotate(-90)" class="v">0.55</text>
<rect x="74.32" y="410.41" width="13.07" height="6.99" fill="#ff0000" stroke="#222" stroke-width="0.7"/>
<text transform="translate(82.35 408.61) rotate(-90)" class="v">2.52</text>
<rect x="87.39" y="406.75" width="13.07" height="10.65" fill="#ff8c00" stroke="#222" stroke-width="0.7"/>
<text transform="translate(95.42 404.95) rotate(-90)" class="v">3.84</text>
<rect x="100.46" y="393.99" width="13.07" height="23.41" fill="#f4a460" stroke="#222" stroke-width="0.7"/>
<text transform="translate(108.5 392.19) rotate(-90)" class="v">8.44</text>
<rect x="113.53" y="375.74" width="13.07" height="41.66" fill="#ffff00" stroke="#222" stroke-width="0.7"/>
<text transform="translate(121.57 373.94) rotate(-90)" class="v">15.02</text>
<rect x="126.6" y="358.1" width="13.07" height="59.3" fill="#ffff00" stroke="#222" stroke-width="0.7"/>
<text transform="translate(134.64 356.3) rotate(-90)" class="v">21.38</text>
<rect x="139.68" y="365.09" width="13.07" height="52.31" fill="#90ee90" stroke="#222" stroke-width="0.7"/>
<text transform="translate(147.71 363.29) rotate(-90)" class="v">18.86</text>
<rect x="152.75" y="375.13" width="13.07" height="42.27" fill="#90ee90" stroke="#222" stroke-width="0.7"/>
<text transform="translate(160.78 373.33) rotate(-90)" class="v">15.24</text>
<rect x="165.82" y="397.62" width="13.07" height="19.78" fill="#008000" stroke="#222" stroke-width="0.7"/>
<text transform="translate(173.85 395.82) rotate(-90)" class="v">7.13</text>
<rect x="178.89" y="403.12" width="13.07" height="14.28" fill="#add8e6" stroke="#222" stroke-width="0.7"/>
<text transform="translate(186.93 401.32) rotate(-90)" class="v">5.15</text>
<rect x="191.96" y="412.55" width="13.07" height="4.85" fill="#0000ff" stroke="#222" stroke-width="0.7"/>
<text transform="translate(200 410.75) rotate(-90)" class="v">1.75</text>
<rect x="205.03" y="417.09" width="13.07" height="0.31" fill="#4b0082" stroke="#300a58" stroke-width="0.7"/>
<text transform="translate(213.07 415.29) rotate(-90)" class="v">0.11</text>
<path d="M35.1 417.4H244.25M35.1 417.4v3.9M74.32 417.4v3.9M87.39 417.4v3.9M100.46 417.4v3.9M113.53 417.4v3.9M139.68 417.4v3.9M165.82 417.4v3.9M178.89 417.4v3.9M191.96 417.4v3.9M205.03 417.4v3.9M244.25 417.4v3.9" stroke="#202020" stroke-width="1.05" fill="none"/>
<text x="54.71" y="426.8" text-anchor="middle" class="c">EXD</text>
<text x="80.85" y="426.8" text-anchor="middle" class="c">ED</text>
<text x="93.92" y="426.8" text-anchor="middle" class="c">SD</text>
<text x="107" y="426.8" text-anchor="middle" class="c">MD</text>
<text x="126.6" y="426.8" text-anchor="middle" class="c">AND</text>
<text x="152.75" y="426.8" text-anchor="middle" class="c">ANW</text>
<text x="172.35" y="426.8" text-anchor="middle" class="c">MW</text>
<text x="185.43" y="426.8" text-anchor="middle" class="c">SW</text>
<text x="198.5" y="426.8" text-anchor="middle" class="c">EW</text>
<text x="224.64" y="426.8" text-anchor="middle" class="c">EXW</text>
<rect x="256.35" y="601.05" width="1.95" height="13.22" fill="#8b0000" stroke="#4a0808" stroke-width="0.7"/>
<text x="261" y="609.96" class="v">0.66</text>
<rect x="256.35" y="587.84" width="4.23" height="13.22" fill="#ff0000" stroke="#222" stroke-width="0.7"/>
<text x="263.28" y="596.75" class="v">1.43</text>
<rect x="256.35" y="574.62" width="14.24" height="13.22" fill="#ff8c00" stroke="#222" stroke-width="0.7"/>
<text x="273.29" y="583.53" class="v">4.82</text>
<rect x="256.35" y="561.41" width="28.51" height="13.22" fill="#f4a460" stroke="#222" stroke-width="0.7"/>
<text x="287.56" y="570.31" class="v">9.65</text>
<rect x="256.35" y="548.19" width="34.01" height="13.22" fill="#ffff00" stroke="#222" stroke-width="0.7"/>
<text x="293.06" y="557.1" class="v">11.51</text>
<rect x="256.35" y="534.98" width="59.3" height="13.22" fill="#ffff00" stroke="#222" stroke-width="0.7"/>
<text x="318.35" y="543.88" class="v">20.07</text>
<rect x="256.35" y="521.76" width="58.65" height="13.22" fill="#90ee90" stroke="#222" stroke-width="0.7"/>
<text x="317.7" y="530.67" class="v">19.85</text>
<rect x="256.35" y="508.54" width="43.4" height="13.22" fill="#90ee90" stroke="#222" stroke-width="0.7"/>
<text x="302.45" y="517.45" class="v">14.69</text>
<rect x="256.35" y="495.33" width="25.59" height="13.22" fill="#008000" stroke="#222" stroke-width="0.7"/>
<text x="284.64" y="504.24" class="v">8.66</text>
<rect x="256.35" y="482.11" width="19.12" height="13.22" fill="#add8e6" stroke="#222" stroke-width="0.7"/>
<text x="278.17" y="491.02" class="v">6.47</text>
<rect x="256.35" y="468.9" width="3.58" height="13.22" fill="#0000ff" stroke="#222" stroke-width="0.7"/>
<text x="262.63" y="477.8" class="v">1.21</text>
<rect x="256.35" y="455.68" width="2.28" height="13.22" fill="#4b0082" stroke="#222" stroke-width="0.7"/>
<text x="261.33" y="464.59" class="v">0.77</text>
<rect x="256.35" y="442.47" width="0.65" height="13.22" fill="#4b0082" stroke="#300a58" stroke-width="0.7"/>
<text x="259.7" y="451.37" class="v">0.22</text>
<path d="M256.35 429.25V640.7M256.35 640.7h-3.9M256.35 601.05h-3.9M256.35 587.84h-3.9M256.35 574.62h-3.9M256.35 561.41h-3.9M256.35 534.98h-3.9M256.35 508.54h-3.9M256.35 495.33h-3.9M256.35 482.11h-3.9M256.35 468.9h-3.9M256.35 429.25h-3.9" stroke="#202020" stroke-width="1.05" fill="none"/>
<text transform="translate(251.75 622.28) rotate(-90)" text-anchor="middle" class="c">EXD</text>
<text transform="translate(251.75 595.85) rotate(-90)" text-anchor="middle" class="c">ED</text>
<text transform="translate(251.75 582.63) rotate(-90)" text-anchor="middle" class="c">SD</text>
<text transform="translate(251.75 569.41) rotate(-90)" text-anchor="middle" class="c">MD</text>
<text transform="translate(251.75 549.59) rotate(-90)" text-anchor="middle" class="c">AND</text>
<text transform="translate(251.75 523.16) rotate(-90)" text-anchor="middle" class="c">ANW</text>
<text transform="translate(251.75 503.34) rotate(-90)" text-anchor="middle" class="c">MW</text>
<text transform="translate(251.75 490.12) rotate(-90)" text-anchor="middle" class="c">SW</text>
<text transform="translate(251.75 476.9) rotate(-90)" text-anchor="middle" class="c">EW</text>
<text transform="translate(251.75 450.47) rotate(-90)" text-anchor="middle" class="c">EXW</text>
<path d="M381.35 431.05H591.5" stroke="#d3d3d3" stroke-width="0.5" fill="none"/>
<path d="M420.75 430.85V643.35M381.35 603.51H591.5M433.89 430.85V643.35M381.35 590.23H591.5M447.02 430.85V643.35M381.35 576.94H591.5M460.16 430.85V643.35M381.35 563.66H591.5M486.43 430.85V643.35M381.35 537.1H591.5M512.69 430.85V643.35M381.35 510.54H591.5M525.83 430.85V643.35M381.35 497.26H591.5M538.96 430.85V643.35M381.35 483.98H591.5M552.1 430.85V643.35M381.35 470.69H591.5" stroke="#d3d3d3" stroke-width="0.85" fill="none"/>
<path d="M430.7 589.9L431.9 587L435.4 584.7L438.9 582L442.4 577.7L450 569.5L452.18 567.34L454.43 565.26L456.86 563.39L459.36 561.58L461.73 559.64L463.96 557.54L466.19 555.43L468.51 553.43L470.83 551.43L472.99 549.25L475.03 546.93L477.17 544.72L479.53 542.77L482.03 540.97L484.45 539.08L486.7 537L488.94 534.52L491.01 531.89L493.21 529.38L495.45 526.9L497.65 524.38L500 522L505.9 512.5L510.3 507.3L513.8 503.8L517.3 500.3L520.8 496L523.4 493.3L526.9 489.5L529.6 486.7L533.1 484.6L537.4 481.9" stroke="#0a14f0" stroke-width="6.8" stroke-linecap="round" stroke-linejoin="round" fill="none"/>
<g fill="#2277bb" stroke="#0d20ee" stroke-width="1.1"><circle cx="405.7" cy="617.1" r="2.45"/><circle cx="406.9" cy="615.7" r="2.45"/><circle cx="413.9" cy="614.8" r="2.45"/><circle cx="416.2" cy="614.1" r="2.45"/><circle cx="417.9" cy="610.6" r="2.45"/><circle cx="417.6" cy="606.2" r="2.45"/><circle cx="418.4" cy="603.4" r="2.45"/><circle cx="422.3" cy="601.7" r="2.45"/><circle cx="426.2" cy="600.4" r="2.45"/><circle cx="427.6" cy="596.9" r="2.45"/><circle cx="428.4" cy="593.4" r="2.45"/><circle cx="430.7" cy="589.9" r="2.45"/><circle cx="431.62" cy="587.68" r="2.45"/><circle cx="433.15" cy="586.18" r="2.45"/><circle cx="434.88" cy="585.04" r="2.45"/><circle cx="436.44" cy="583.9" r="2.45"/><circle cx="437.86" cy="582.8" r="2.45"/><circle cx="439.12" cy="581.72" r="2.45"/><circle cx="440.11" cy="580.52" r="2.45"/><circle cx="441.02" cy="579.4" r="2.45"/><circle cx="441.86" cy="578.36" r="2.45"/><circle cx="442.67" cy="577.41" r="2.45"/><circle cx="443.46" cy="576.55" r="2.45"/><circle cx="444.2" cy="575.76" r="2.45"/><circle cx="444.88" cy="575.03" r="2.45"/><circle cx="445.51" cy="574.34" r="2.45"/><circle cx="446.1" cy="573.7" r="2.45"/></g>
<path d="M446.65 573.11L450 569.5L452.18 567.34L454.43 565.26L456.86 563.39L459.36 561.58L461.73 559.64L463.96 557.54L466.19 555.43L468.51 553.43L470.83 551.43L472.99 549.25L475.03 546.93L477.17 544.72L479.53 542.77L482.03 540.97L484.45 539.08L486.7 537L488.94 534.52L491.01 531.89L493.21 529.38L495.45 526.9L497.65 524.38L500 522L505.9 512.5L510.3 507.3L513.8 503.8L517.3 500.3L520.8 496L523.4 493.3L526.9 489.5L529.6 486.7L533.1 484.6L537.4 481.9" stroke="#0a14f0" stroke-width="6.8" stroke-linecap="round" stroke-linejoin="round" fill="none"/>
<g fill="#2277bb" stroke="#0d20ee" stroke-width="1.1"><circle cx="520.31" cy="496.6" r="2.45"/><circle cx="520.86" cy="495.93" r="2.45"/><circle cx="521.51" cy="495.26" r="2.45"/><circle cx="522.21" cy="494.54" r="2.45"/><circle cx="522.96" cy="493.76" r="2.45"/><circle cx="523.75" cy="492.92" r="2.45"/><circle cx="524.6" cy="492" r="2.45"/><circle cx="525.51" cy="491.01" r="2.45"/><circle cx="526.49" cy="489.95" r="2.45"/><circle cx="527.56" cy="488.82" r="2.45"/><circle cx="528.72" cy="487.62" r="2.45"/><circle cx="530.05" cy="486.43" r="2.45"/><circle cx="531.7" cy="485.44" r="2.45"/><circle cx="533.48" cy="484.36" r="2.45"/><circle cx="535.37" cy="483.18" r="2.45"/><circle cx="537.4" cy="481.9" r="2.45"/><circle cx="540.9" cy="480.7" r="2.45"/><circle cx="541.5" cy="475.5" r="2.45"/><circle cx="541.8" cy="468.8" r="2.45"/><circle cx="544.4" cy="464.9" r="2.45"/><circle cx="545" cy="460.9" r="2.45"/><circle cx="547.1" cy="460.6" r="2.45"/><circle cx="547.1" cy="454.4" r="2.45"/><circle cx="553.7" cy="451.6" r="2.45"/><circle cx="557.6" cy="448.3" r="2.45"/><circle cx="558.6" cy="441.6" r="2.45"/></g>
<path d="M381.35 643.35L591.5 430.85" stroke="#7a7a7a" stroke-width="1.15" fill="none"/>
<path d="M435.4 584.7L438.9 582L442.4 577.7L450 569.5L452.18 567.34L454.43 565.26L456.86 563.39L459.36 561.58L461.73 559.64L463.96 557.54L466.19 555.43L468.51 553.43L470.83 551.43L472.99 549.25L475.03 546.93L477.17 544.72L479.53 542.77L482.03 540.97L484.45 539.08L486.7 537L488.94 534.52L491.01 531.89L493.21 529.38L495.45 526.9L497.65 524.38L500 522L505.9 512.5L510.3 507.3L513.8 503.8L517.3 500.3L520.8 496L523.4 493.3L526.9 489.5L529.6 486.7" stroke="#0a14f0" stroke-opacity="0.38" stroke-width="4" stroke-linecap="butt" stroke-linejoin="round" fill="none"/>
<path d="M381.35 643.35v3.9M381.35 643.35h-4.1M420.75 643.35v3.9M381.35 603.51h-4.1M433.89 643.35v3.9M381.35 590.23h-4.1M447.02 643.35v3.9M381.35 576.94h-4.1M460.16 643.35v3.9M381.35 563.66h-4.1M486.43 643.35v3.9M381.35 537.1h-4.1M512.69 643.35v3.9M381.35 510.54h-4.1M525.83 643.35v3.9M381.35 497.26h-4.1M538.96 643.35v3.9M381.35 483.98h-4.1M552.1 643.35v3.9M381.35 470.69h-4.1M591.5 643.35v3.9M381.35 430.85h-4.1" stroke="#202020" stroke-width="0.8" fill="none"/>
<path d="M381.35 430.85V643.35H591.5" stroke="#202020" stroke-width="1.05" fill="none"/>
<text x="380.75" y="655.2" text-anchor="middle" class="t"><tspan letter-spacing="-0.7">−</tspan>4.0</text>
<text x="373.75" y="646.35" text-anchor="end" class="t"><tspan letter-spacing="-0.7">−</tspan>4.0</text>
<text x="420.15" y="655.2" text-anchor="middle" class="t"><tspan letter-spacing="-0.7">−</tspan>2.5</text>
<text x="373.75" y="606.51" text-anchor="end" class="t"><tspan letter-spacing="-0.7">−</tspan>2.5</text>
<text x="433.29" y="655.2" text-anchor="middle" class="t"><tspan letter-spacing="-0.7">−</tspan>2.0</text>
<text x="373.75" y="593.23" text-anchor="end" class="t"><tspan letter-spacing="-0.7">−</tspan>2.0</text>
<text x="446.42" y="655.2" text-anchor="middle" class="t"><tspan letter-spacing="-0.7">−</tspan>1.5</text>
<text x="373.75" y="579.94" text-anchor="end" class="t"><tspan letter-spacing="-0.7">−</tspan>1.5</text>
<text x="459.56" y="655.2" text-anchor="middle" class="t"><tspan letter-spacing="-0.7">−</tspan>1.0</text>
<text x="373.75" y="566.66" text-anchor="end" class="t"><tspan letter-spacing="-0.7">−</tspan>1.0</text>
<text x="486.12" y="655.2" text-anchor="middle" class="t">0.0</text>
<text x="373.75" y="540.1" text-anchor="end" class="t">0.0</text>
<text x="512.39" y="655.2" text-anchor="middle" class="t">1.0</text>
<text x="373.75" y="513.54" text-anchor="end" class="t">1.0</text>
<text x="525.53" y="655.2" text-anchor="middle" class="t">1.5</text>
<text x="373.75" y="500.26" text-anchor="end" class="t">1.5</text>
<text x="538.66" y="655.2" text-anchor="middle" class="t">2.0</text>
<text x="373.75" y="486.98" text-anchor="end" class="t">2.0</text>
<text x="551.8" y="655.2" text-anchor="middle" class="t">2.5</text>
<text x="373.75" y="473.69" text-anchor="end" class="t">2.5</text>
<text x="591.2" y="655.2" text-anchor="middle" class="t">4.0</text>
<text x="373.75" y="433.85" text-anchor="end" class="t">4.0</text>
<text x="486.03" y="666.15" text-anchor="middle" class="a">First half series ( 1870-1945)</text>
<text transform="translate(354.65 537.1) rotate(-90)" text-anchor="middle" class="a">Second half series (1946-2021)</text>
<rect x="446.43" y="616.45" width="80.6" height="22.6" rx="1.8" fill="#fff" fill-opacity="0.8" stroke="#d2d2d2" stroke-width="0.8"/>
<circle cx="456.73" cy="622.65" r="2.45" fill="#2277bb" stroke="#0d20ee" stroke-width="1.1"/>
<text x="470.53" y="624.6" class="l">Durham SPI-12</text>
<path d="M449.03 632.5h15.8" stroke="#787878" stroke-width="0.9"/>
<text x="470.53" y="635.5" class="l">1:1 line</text>
<rect x="394.48" y="417.86" width="13.13" height="0.64" fill="#8b0000" stroke="#4a0808" stroke-width="0.7"/>
<text transform="translate(402.55 416.06) rotate(-90)" class="v">0.22</text>
<rect x="407.62" y="416.57" width="13.13" height="1.93" fill="#8b0000" stroke="#4a0808" stroke-width="0.7"/>
<text transform="translate(415.69 414.77) rotate(-90)" class="v">0.66</text>
<rect x="420.75" y="413.39" width="13.13" height="5.11" fill="#ff0000" stroke="#222" stroke-width="0.7"/>
<text transform="translate(428.82 411.59) rotate(-90)" class="v">1.75</text>
<rect x="433.89" y="406.31" width="13.13" height="12.19" fill="#ff8c00" stroke="#222" stroke-width="0.7"/>
<text transform="translate(441.95 404.51) rotate(-90)" class="v">4.17</text>
<rect x="447.02" y="389.98" width="13.13" height="28.52" fill="#f4a460" stroke="#222" stroke-width="0.7"/>
<text transform="translate(455.09 388.18) rotate(-90)" class="v">9.76</text>
<rect x="460.16" y="374.6" width="13.13" height="43.9" fill="#ffff00" stroke="#222" stroke-width="0.7"/>
<text transform="translate(468.22 372.8) rotate(-90)" class="v">15.02</text>
<rect x="473.29" y="359.2" width="13.13" height="59.3" fill="#ffff00" stroke="#222" stroke-width="0.7"/>
<text transform="translate(481.36 357.4) rotate(-90)" class="v">20.29</text>
<rect x="486.43" y="363.7" width="13.13" height="54.8" fill="#90ee90" stroke="#222" stroke-width="0.7"/>
<text transform="translate(494.49 361.9) rotate(-90)" class="v">18.75</text>
<rect x="499.56" y="375.57" width="13.13" height="42.93" fill="#90ee90" stroke="#222" stroke-width="0.7"/>
<text transform="translate(507.63 373.77) rotate(-90)" class="v">14.69</text>
<rect x="512.69" y="390.3" width="13.13" height="28.2" fill="#008000" stroke="#222" stroke-width="0.7"/>
<text transform="translate(520.76 388.5) rotate(-90)" class="v">9.65</text>
<rect x="525.83" y="408.56" width="13.13" height="9.94" fill="#add8e6" stroke="#222" stroke-width="0.7"/>
<text transform="translate(533.9 406.76) rotate(-90)" class="v">3.4</text>
<rect x="538.96" y="414.64" width="13.13" height="3.86" fill="#0000ff" stroke="#222" stroke-width="0.7"/>
<text transform="translate(547.03 412.84) rotate(-90)" class="v">1.32</text>
<rect x="552.1" y="417.54" width="13.13" height="0.96" fill="#4b0082" stroke="#300a58" stroke-width="0.7"/>
<text transform="translate(560.16 415.74) rotate(-90)" class="v">0.33</text>
<path d="M381.35 418.5H591.5M381.35 418.5v3.9M420.75 418.5v3.9M433.89 418.5v3.9M447.02 418.5v3.9M460.16 418.5v3.9M486.43 418.5v3.9M512.69 418.5v3.9M525.83 418.5v3.9M538.96 418.5v3.9M552.1 418.5v3.9M591.5 418.5v3.9" stroke="#202020" stroke-width="1.05" fill="none"/>
<text x="401.05" y="427.9" text-anchor="middle" class="c">EXD</text>
<text x="427.32" y="427.9" text-anchor="middle" class="c">ED</text>
<text x="440.45" y="427.9" text-anchor="middle" class="c">SD</text>
<text x="453.59" y="427.9" text-anchor="middle" class="c">MD</text>
<text x="473.29" y="427.9" text-anchor="middle" class="c">AND</text>
<text x="499.56" y="427.9" text-anchor="middle" class="c">ANW</text>
<text x="519.26" y="427.9" text-anchor="middle" class="c">MW</text>
<text x="532.4" y="427.9" text-anchor="middle" class="c">SW</text>
<text x="545.53" y="427.9" text-anchor="middle" class="c">EW</text>
<text x="571.8" y="427.9" text-anchor="middle" class="c">EXW</text>
<rect x="603.7" y="616.79" width="0.36" height="13.28" fill="#8b0000" stroke="#4a0808" stroke-width="0.7"/>
<text x="606.76" y="625.73" class="v">0.11</text>
<rect x="603.7" y="603.51" width="2.15" height="13.28" fill="#8b0000" stroke="#4a0808" stroke-width="0.7"/>
<text x="608.55" y="612.45" class="v">0.66</text>
<rect x="603.7" y="590.23" width="4.3" height="13.28" fill="#ff0000" stroke="#222" stroke-width="0.7"/>
<text x="610.7" y="599.17" class="v">1.32</text>
<rect x="603.7" y="576.94" width="11.79" height="13.28" fill="#ff8c00" stroke="#222" stroke-width="0.7"/>
<text x="618.19" y="585.88" class="v">3.62</text>
<rect x="603.7" y="563.66" width="26.07" height="13.28" fill="#f4a460" stroke="#222" stroke-width="0.7"/>
<text x="632.47" y="572.6" class="v">8.0</text>
<rect x="603.7" y="550.38" width="57.51" height="13.28" fill="#ffff00" stroke="#222" stroke-width="0.7"/>
<text x="663.91" y="559.32" class="v">17.65</text>
<rect x="603.7" y="537.1" width="57.87" height="13.28" fill="#ffff00" stroke="#222" stroke-width="0.7"/>
<text x="664.27" y="546.04" class="v">17.76</text>
<rect x="603.7" y="523.82" width="59.3" height="13.28" fill="#90ee90" stroke="#222" stroke-width="0.7"/>
<text x="665.7" y="532.76" class="v">18.2</text>
<rect x="603.7" y="510.54" width="41.8" height="13.28" fill="#90ee90" stroke="#222" stroke-width="0.7"/>
<text x="648.2" y="519.48" class="v">12.83</text>
<rect x="603.7" y="497.26" width="39.29" height="13.28" fill="#008000" stroke="#222" stroke-width="0.7"/>
<text x="645.69" y="506.2" class="v">12.06</text>
<rect x="603.7" y="483.98" width="18.21" height="13.28" fill="#add8e6" stroke="#222" stroke-width="0.7"/>
<text x="624.61" y="492.92" class="v">5.59</text>
<rect x="603.7" y="470.69" width="3.94" height="13.28" fill="#0000ff" stroke="#222" stroke-width="0.7"/>
<text x="610.34" y="479.63" class="v">1.21</text>
<rect x="603.7" y="457.41" width="1.79" height="13.28" fill="#4b0082" stroke="#300a58" stroke-width="0.7"/>
<text x="608.19" y="466.35" class="v">0.55</text>
<rect x="603.7" y="444.13" width="1.08" height="13.28" fill="#4b0082" stroke="#300a58" stroke-width="0.7"/>
<text x="607.48" y="453.07" class="v">0.33</text>
<rect x="603.7" y="430.85" width="0.36" height="13.28" fill="#4b0082" stroke="#300a58" stroke-width="0.7"/>
<text x="606.76" y="439.79" class="v">0.11</text>
<path d="M603.7 430.85V643.35M603.7 643.35h-3.9M603.7 603.51h-3.9M603.7 590.23h-3.9M603.7 576.94h-3.9M603.7 563.66h-3.9M603.7 537.1h-3.9M603.7 510.54h-3.9M603.7 497.26h-3.9M603.7 483.98h-3.9M603.7 470.69h-3.9M603.7 430.85h-3.9" stroke="#202020" stroke-width="1.05" fill="none"/>
<text transform="translate(599.1 624.83) rotate(-90)" text-anchor="middle" class="c">EXD</text>
<text transform="translate(599.1 598.27) rotate(-90)" text-anchor="middle" class="c">ED</text>
<text transform="translate(599.1 584.98) rotate(-90)" text-anchor="middle" class="c">SD</text>
<text transform="translate(599.1 571.7) rotate(-90)" text-anchor="middle" class="c">MD</text>
<text transform="translate(599.1 551.78) rotate(-90)" text-anchor="middle" class="c">AND</text>
<text transform="translate(599.1 525.22) rotate(-90)" text-anchor="middle" class="c">ANW</text>
<text transform="translate(599.1 505.3) rotate(-90)" text-anchor="middle" class="c">MW</text>
<text transform="translate(599.1 492.02) rotate(-90)" text-anchor="middle" class="c">SW</text>
<text transform="translate(599.1 478.73) rotate(-90)" text-anchor="middle" class="c">EW</text>
<text transform="translate(599.1 452.17) rotate(-90)" text-anchor="middle" class="c">EXW</text>
</svg>
</body></html>
